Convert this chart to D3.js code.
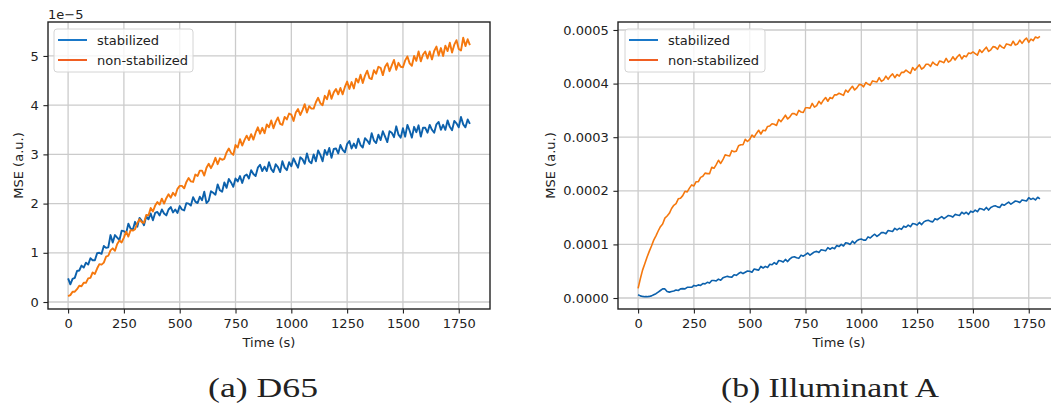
<!DOCTYPE html>
<html>
<head>
<meta charset="utf-8">
<script src="https://cdn.jsdelivr.net/npm/d3@7"></script>
<style>
  body { margin: 0; background: #fff; }
  svg text { font-family: "DejaVu Sans", sans-serif; fill: #222; }
</style>
</head>
<body>
<svg id="fig" width="1051" height="413"></svg>
<script>
// time axis, one sample every 10 s
var timeStep = 10;
var times = d3.range(0, 1801, timeStep);

var xTicks = [0, 250, 500, 750, 1000, 1250, 1500, 1750];
var d65Ticks = [0, 1, 2, 3, 4, 5];                 // x 1e-5
var illATicks = [0, 1, 2, 3, 4, 5];                // x 1e-4
var illATickLabels = ["0.0000", "0.0001", "0.0002", "0.0003", "0.0004", "0.0005"];
var seriesNames = ["stabilized", "non-stabilized"];
var captions = ["(a) D65", "(b) Illuminant A"];

// (a) D65, MSE in units of 1e-5
var d65Stabilized = [
  0.48,0.36,0.47,0.49,0.63,0.64,0.74,0.70,0.80,0.76,
  0.89,0.85,0.85,0.99,1.00,0.98,1.14,1.10,1.11,1.36,
  1.21,1.36,1.31,1.26,1.45,1.44,1.40,1.59,1.49,1.47,
  1.63,1.53,1.71,1.65,1.56,1.74,1.68,1.80,1.66,1.81,
  1.83,1.76,1.88,1.80,1.76,1.88,1.93,1.82,1.88,1.81,
  1.95,1.88,1.86,2.01,2.00,1.96,2.13,2.04,2.01,2.14,
  2.07,2.24,2.01,2.06,2.25,2.22,2.18,2.39,2.27,2.24,
  2.43,2.32,2.50,2.43,2.34,2.51,2.45,2.56,2.42,2.56,
  2.59,2.51,2.68,2.60,2.56,2.73,2.79,2.66,2.75,2.66,
  2.84,2.70,2.64,2.80,2.74,2.64,2.86,2.73,2.68,2.84,
  2.76,2.92,2.82,2.73,2.94,2.90,2.81,3.02,2.86,2.82,
  3.00,2.86,3.08,2.99,2.86,3.09,2.99,3.13,2.93,3.11,
  3.12,3.02,3.19,3.09,3.04,3.21,3.27,3.12,3.22,3.13,
  3.32,3.19,3.14,3.33,3.28,3.21,3.43,3.28,3.23,3.40,
  3.29,3.47,3.36,3.25,3.47,3.44,3.35,3.57,3.40,3.34,
  3.53,3.36,3.60,3.48,3.34,3.56,3.45,3.59,3.36,3.54,
  3.54,3.44,3.60,3.50,3.44,3.61,3.66,3.50,3.60,3.50,
  3.69,3.56,3.49,3.68,3.63,3.55,3.76,3.61,3.55,3.71,
  3.62
];
var d65NonStabilized = [
  0.12,0.14,0.21,0.21,0.26,0.33,0.32,0.39,0.39,0.48,
  0.49,0.60,0.57,0.68,0.77,0.76,0.80,0.92,0.94,1.05,
  1.09,1.04,1.18,1.25,1.21,1.31,1.43,1.33,1.46,1.45,
  1.48,1.60,1.68,1.62,1.61,1.77,1.76,1.91,1.84,1.96,
  2.03,1.98,2.10,2.00,2.11,2.19,2.12,2.22,2.16,2.30,
  2.36,2.36,2.31,2.44,2.52,2.45,2.44,2.59,2.56,2.67,
  2.67,2.57,2.73,2.81,2.72,2.81,2.93,2.80,2.92,2.89,
  2.91,3.04,3.12,3.03,2.99,3.19,3.14,3.31,3.18,3.29,
  3.38,3.29,3.41,3.30,3.44,3.55,3.42,3.54,3.43,3.61,
  3.55,3.69,3.53,3.66,3.75,3.62,3.60,3.76,3.71,3.83,
  3.81,3.68,3.85,3.92,3.80,3.90,4.02,3.85,3.98,3.93,
  3.93,4.06,4.15,4.04,4.00,4.19,4.12,4.30,4.13,4.26,
  4.33,4.22,4.35,4.22,4.37,4.48,4.33,4.47,4.34,4.54,
  4.46,4.62,4.45,4.60,4.70,4.55,4.53,4.71,4.64,4.78,
  4.76,4.61,4.78,4.85,4.69,4.81,4.92,4.72,4.86,4.78,
  4.77,4.91,4.99,4.85,4.80,5.00,4.90,5.09,4.89,5.03,
  5.09,4.95,5.09,4.93,5.10,5.19,5.01,5.16,5.00,5.21,
  5.10,5.27,5.07,5.23,5.32,5.14,5.11,5.37,5.20,5.34,
  5.22
];

// (b) Illuminant A, MSE in units of 1e-4
var illAStabilized = [
  0.06,0.04,0.03,0.025,0.025,0.03,0.04,0.06,0.08,0.11,
  0.14,0.17,0.17,0.12,0.11,0.12,0.13,0.15,0.14,0.17,
  0.175,0.17,0.20,0.20,0.20,0.235,0.225,0.245,0.235,0.27,
  0.264,0.292,0.278,0.328,0.326,0.318,0.352,0.332,0.376,0.392,
  0.404,0.393,0.389,0.434,0.423,0.457,0.481,0.456,0.48,0.504,
  0.50,0.48,0.54,0.53,0.52,0.59,0.56,0.59,0.57,0.63,
  0.62,0.66,0.63,0.70,0.69,0.67,0.72,0.68,0.73,0.76,
  0.77,0.75,0.74,0.80,0.78,0.81,0.84,0.80,0.83,0.86,
  0.87,0.85,0.90,0.89,0.88,0.94,0.91,0.94,0.92,0.98,
  0.96,1.00,0.97,1.03,1.02,1.00,1.06,1.02,1.07,1.09,
  1.10,1.08,1.08,1.14,1.12,1.16,1.19,1.15,1.18,1.22,
  1.22,1.20,1.26,1.25,1.24,1.30,1.27,1.30,1.28,1.34,
  1.32,1.36,1.33,1.39,1.38,1.36,1.41,1.37,1.42,1.44,
  1.45,1.43,1.42,1.48,1.46,1.49,1.52,1.48,1.51,1.54,
  1.53,1.51,1.56,1.55,1.54,1.60,1.57,1.60,1.56,1.62,
  1.60,1.64,1.61,1.67,1.66,1.64,1.69,1.64,1.69,1.71,
  1.72,1.70,1.69,1.75,1.73,1.76,1.79,1.75,1.78,1.81,
  1.80,1.78,1.83,1.82,1.81,1.87,1.84,1.86,1.83,1.88,
  1.85
];
var illANonStabilized = [
  0.18,0.36,0.52,0.64,0.76,0.87,0.97,1.08,1.16,1.25,
  1.33,1.38,1.49,1.53,1.58,1.67,1.73,1.76,1.85,1.86,
  1.91,1.99,1.98,2.05,2.11,2.09,2.17,2.17,2.25,2.27,
  2.33,2.32,2.32,2.44,2.42,2.49,2.57,2.51,2.58,2.67,
  2.66,2.65,2.75,2.73,2.74,2.84,2.86,2.86,2.96,2.92,
  2.96,3.04,3.00,3.07,3.13,3.06,3.13,3.12,3.20,3.21,
  3.25,3.24,3.22,3.33,3.29,3.35,3.41,3.34,3.38,3.44,
  3.44,3.41,3.50,3.47,3.46,3.55,3.55,3.54,3.63,3.56,
  3.59,3.67,3.62,3.69,3.74,3.67,3.74,3.72,3.79,3.79,
  3.82,3.80,3.78,3.88,3.84,3.90,3.95,3.88,3.92,3.98,
  3.98,3.94,4.02,3.99,3.97,4.05,4.04,4.03,4.11,4.04,
  4.07,4.14,4.08,4.14,4.18,4.11,4.17,4.14,4.21,4.21,
  4.25,4.22,4.19,4.30,4.25,4.30,4.35,4.27,4.30,4.36,
  4.36,4.32,4.40,4.36,4.34,4.42,4.41,4.39,4.47,4.40,
  4.43,4.50,4.44,4.50,4.54,4.46,4.52,4.50,4.57,4.56,
  4.59,4.56,4.53,4.63,4.58,4.63,4.68,4.60,4.63,4.69,
  4.68,4.64,4.72,4.68,4.66,4.74,4.73,4.71,4.79,4.72,
  4.74,4.81,4.75,4.81,4.85,4.77,4.83,4.80,4.87,4.85,
  4.88
];

var lineColors = ["#0c61ac", "#f5780e"];
var legendColors = ["#1a78c8", "#f05f22"];

var svg = d3.select("#fig");
var axTop = 22, axBottom = 309;

function drawPanel(p) {
  var g = svg.append("g");
  var x = d3.scaleLinear().domain([-90, 1890]).range([p.left, p.right]);
  var y = d3.scaleLinear().domain(p.yDomain).range([axBottom, axTop]);

  // grid
  g.selectAll(".vg").data(xTicks).join("line")
    .attr("x1", d => x(d)).attr("x2", d => x(d))
    .attr("y1", axTop).attr("y2", axBottom)
    .attr("stroke", "#cbcbcb").attr("stroke-width", 1.3);
  g.selectAll(".hg").data(p.yTicks).join("line")
    .attr("x1", p.left).attr("x2", p.right)
    .attr("y1", d => y(d)).attr("y2", d => y(d))
    .attr("stroke", "#cbcbcb").attr("stroke-width", 1.3);

  // data
  var clipId = "clip" + p.id;
  svg.append("clipPath").attr("id", clipId).append("rect")
    .attr("x", p.left).attr("y", axTop)
    .attr("width", p.right - p.left).attr("height", axBottom - axTop);
  var line = d3.line().x((d, i) => x(times[i])).y(d => y(d));
  [p.stab, p.nonstab].forEach(function (s, k) {
    g.append("path").datum(s)
      .attr("clip-path", "url(#" + clipId + ")")
      .attr("fill", "none")
      .attr("stroke", lineColors[k])
      .attr("stroke-width", p.lineWidth)
      .attr("stroke-linejoin", "round")
      .attr("d", line);
  });

  // axes
  var xa = g.append("g").attr("transform", "translate(0," + axBottom + ")")
    .call(d3.axisBottom(x).tickValues(xTicks).tickFormat(d3.format("d"))
      .tickSize(4.6).tickPadding(5.5));
  var ya = g.append("g").attr("transform", "translate(" + p.left + ",0)")
    .call(d3.axisLeft(y).tickValues(p.yTicks).tickSize(4.6).tickPadding(4.6)
      .tickFormat((d, i) => p.yLabels[i]));
  [xa, ya].forEach(function (a) {
    a.select(".domain").remove();
    a.selectAll("line").attr("stroke", "#222").attr("stroke-width", 1.1);
    a.selectAll("text").attr("font-size", 13).attr("fill", "#222")
      .attr("font-family", "DejaVu Sans");
  });

  // frame
  g.append("rect")
    .attr("x", p.left).attr("y", axTop)
    .attr("width", p.right - p.left).attr("height", axBottom - axTop)
    .attr("fill", "none").attr("stroke", "#222").attr("stroke-width", 1.4);

  // axis labels
  g.append("text").attr("x", (p.left + p.right) / 2).attr("y", 346.5)
    .attr("text-anchor", "middle").attr("font-size", 13).text("Time (s)");
  g.append("text")
    .attr("transform", "translate(" + p.yLabelX + "," + ((axTop + axBottom) / 2) + ") rotate(-90)")
    .attr("text-anchor", "middle").attr("font-size", 13).text("MSE (a.u.)");

  if (p.offset)
    g.append("text").attr("x", p.left).attr("y", 19)
      .attr("font-size", 13).text(p.offset);

  // legend
  var lg = g.append("g");
  lg.append("rect")
    .attr("x", p.legend.x).attr("y", 29)
    .attr("width", p.legend.w).attr("height", 43)
    .attr("rx", 3)
    .attr("fill", "#fff").attr("fill-opacity", 0.8)
    .attr("stroke", "#d4d4d4").attr("stroke-width", 1);
  seriesNames.forEach(function (name, k) {
    var yy = 40 + k * 20;
    lg.append("line")
      .attr("x1", p.legend.x + 4).attr("x2", p.legend.x + 33)
      .attr("y1", yy).attr("y2", yy)
      .attr("stroke", legendColors[k]).attr("stroke-width", 2);
    lg.append("text")
      .attr("x", p.legend.x + 43).attr("y", yy + 4.5)
      .attr("font-size", 13).text(name);
  });

  // caption (Computer Modern is wider than Times, so stretch to width)
  svg.append("text")
    .attr("x", p.captionX).attr("y", 397)
    .attr("text-anchor", "middle")
    .style("font-family", "'Liberation Serif', serif")
    .attr("font-size", 28)
    .attr("textLength", p.captionW)
    .attr("lengthAdjust", "spacingAndGlyphs")
    .text(p.caption);
}

drawPanel({
  id: "a", left: 48, right: 490,
  yDomain: [-0.142, 5.69], yTicks: d65Ticks,
  yLabels: d65Ticks.map(String),
  stab: d65Stabilized, nonstab: d65NonStabilized,
  yLabelX: 23, offset: "1e\u22125", lineWidth: 1.9,
  legend: { x: 54, w: 139 },
  caption: captions[0], captionX: 263, captionW: 110
});

drawPanel({
  id: "b", left: 618, right: 1060,
  yDomain: [-0.205, 5.149], yTicks: illATicks,
  yLabels: illATickLabels,
  stab: illAStabilized, nonstab: illANonStabilized,
  yLabelX: 555, offset: null, lineWidth: 1.6,
  legend: { x: 625, w: 140 },
  caption: captions[1], captionX: 830, captionW: 218
});
</script>
</body>
</html>
